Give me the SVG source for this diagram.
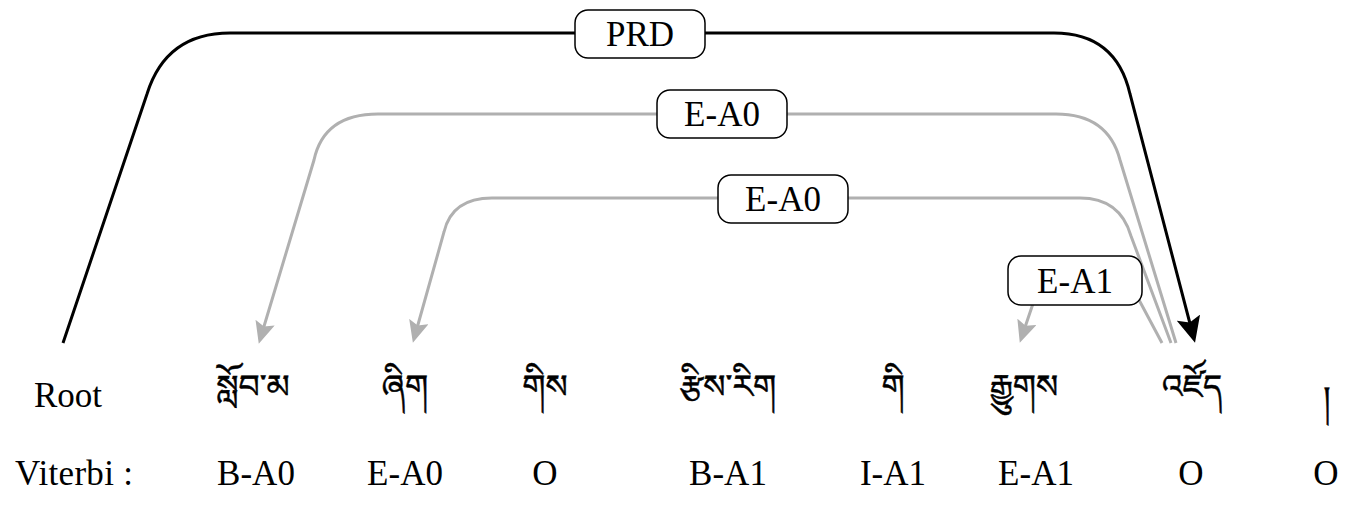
<svg xmlns="http://www.w3.org/2000/svg" width="1365" height="506" viewBox="0 0 1365 506">
<style>
.t{font-family:"Liberation Serif","Times New Roman",serif;font-size:35px;fill:#000;text-anchor:middle}
.tb{font-family:"Noto Serif Tibetan","Noto Sans Tibetan","Jomolhari","Microsoft Himalaya","DejaVu Sans",serif;font-size:33px;fill:#000;stroke:#000;stroke-width:0.5;text-anchor:middle}
.lbl{fill:#fff;stroke:#000;stroke-width:1.5}
.blk{fill:none;stroke:#000;stroke-width:3}
.gry{fill:none;stroke:#b0b0b0;stroke-width:3}
</style>
<defs>
<marker id="ab" markerUnits="userSpaceOnUse" markerWidth="26" markerHeight="24" viewBox="0 0 26 24" refX="20" refY="12" orient="auto">
<path d="M0,0 L26,12 L0,24 L5,12 z" fill="#000"/>
</marker>
<marker id="ag" markerUnits="userSpaceOnUse" markerWidth="22" markerHeight="20" viewBox="0 0 22 20" refX="16" refY="10" orient="auto">
<path d="M0,0 L22,10 L0,20 L4,10 z" fill="#b0b0b0"/>
</marker>
</defs>
<g id="connectors">
<path id="e-prd" class="blk" d="M63,343 L147,94 Q166,33 230,33 L1054,33 Q1116,33 1130,94 L1193.5,337" marker-end="url(#ab)"/>
<path id="e-ea0-1" class="gry" d="M1176,343 L1120,160 Q1108,114 1056,114 L378,114 Q324,114 314,160 L260.5,338" marker-end="url(#ag)"/>
<path id="e-ea0-2" class="gry" d="M1171,343 L1131,236 Q1120,198 1080,198 L492,198 Q452,198 444,232 L414.5,337" marker-end="url(#ag)"/>
<path id="e-ea1" class="gry" d="M1162,343 L1130,283 L1040,283 L1021.7,337" marker-end="url(#ag)"/>
</g>
<g id="label-prd">
<rect class="lbl" x="575" y="10" width="130" height="48" rx="13"/>
<text class="t" x="640" y="46">PRD</text>
</g>
<g id="label-ea0-1">
<rect class="lbl" x="657" y="90" width="130" height="48" rx="13"/>
<text class="t" x="722" y="126">E-A0</text>
</g>
<g id="label-ea0-2">
<rect class="lbl" x="718" y="175" width="130" height="48" rx="13"/>
<text class="t" x="783" y="211">E-A0</text>
</g>
<g id="label-ea1">
<rect class="lbl" x="1008" y="256" width="134" height="49" rx="13"/>
<text class="t" x="1075" y="293">E-A1</text>
</g>
<g id="row-words">
<text class="t" x="68" y="407">Root</text>
<text class="tb" x="253" y="398">སློབ་མ</text>
<text class="tb" x="405" y="398">ཞིག</text>
<text class="tb" x="545" y="398">གིས</text>
<text class="tb" x="728" y="398">རྩིས་རིག</text>
<text class="tb" x="893" y="398">གི</text>
<text class="tb" x="1024" y="398">རྒྱུགས</text>
<text class="tb" x="1192" y="398">འཛོད</text>
<text class="tb" x="1327" y="410">།</text>
</g>
<g id="row-viterbi">
<text class="t" x="15" y="485" style="text-anchor:start" textLength="118" lengthAdjust="spacing">Viterbi :</text>
<text class="t" x="256" y="485">B-A0</text>
<text class="t" x="405" y="485">E-A0</text>
<text class="t" x="545" y="485">O</text>
<text class="t" x="728" y="485">B-A1</text>
<text class="t" x="893" y="485">I-A1</text>
<text class="t" x="1036" y="485">E-A1</text>
<text class="t" x="1191" y="485">O</text>
<text class="t" x="1326" y="485">O</text>
</g>
</svg>
